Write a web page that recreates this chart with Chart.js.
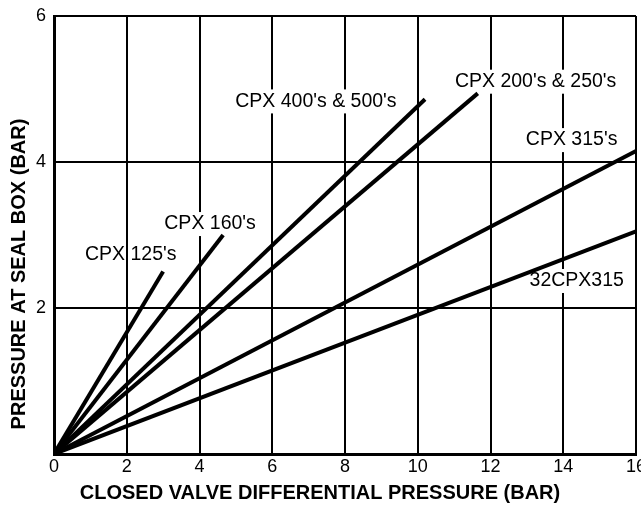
<!DOCTYPE html>
<html>
<head>
<meta charset="utf-8">
<script src="https://cdn.jsdelivr.net/npm/chart.js@4"></script>
<style>
  html, body { margin: 0; padding: 0; background: #fff; }
  #wrap { width: 641px; height: 506px; }
</style>
</head>
<body>
<div id="wrap"><canvas id="chart" width="641" height="506"></canvas></div>
<script>
// Series: straight lines from origin to end point
const seriesNames = ["CPX 125's", "CPX 160's", "CPX 400's & 500's", "CPX 200's & 250's", "CPX 315's", "32CPX315"];
const endX = [3.0, 4.65, 10.2, 11.65, 16, 16];
const endY = [2.5, 3.0, 4.86, 4.94, 4.15, 3.05];

const xTicks = [0, 2, 4, 6, 8, 10, 12, 14, 16];
const yTicks = [2, 4, 6];

const xTitle = 'CLOSED VALVE DIFFERENTIAL PRESSURE (BAR)';
const yTitle = 'PRESSURE AT SEAL BOX (BAR)';

// where each series name sits (data units), and whether it masks the grid
const labelSpots = [
    { x: 2.11, y: 2.73, mask: false },
    { x: 4.29, y: 3.15, mask: true },
    { x: 7.2, y: 4.83, mask: true },
    { x: 13.24, y: 5.10, mask: true },
    { x: 14.23, y: 4.30, mask: true },
    { x: 14.37, y: 2.37, mask: true }
];

const datasets = seriesNames.map((name, i) => ({
    label: name,
    data: [{ x: 0, y: 0 }, { x: endX[i], y: endY[i] }],
    showLine: true,
    borderColor: '#000',
    borderWidth: 4,
    pointRadius: 0,
    fill: false
}));

const FONT = '"Liberation Sans", Arial, sans-serif';

// names on the lines, drawn over the grid but under the lines
const seriesLabels = {
    id: 'seriesLabels',
    beforeDatasetsDraw(chart) {
        const ctx = chart.ctx;
        const xs = chart.scales.x, ys = chart.scales.y;
        ctx.save();
        ctx.font = '19.5px ' + FONT;
        ctx.textAlign = 'center';
        ctx.textBaseline = 'middle';
        seriesNames.forEach((name, i) => {
            const s = labelSpots[i];
            const px = xs.getPixelForValue(s.x);
            const py = ys.getPixelForValue(s.y);
            if (s.mask) {
                const w = ctx.measureText(name).width;
                ctx.fillStyle = '#fff';
                ctx.fillRect(px - w / 2 - 3, py - 12, w + 6, 24);
            }
            ctx.fillStyle = '#000';
            ctx.fillText(name, px, py);
        });
        ctx.restore();
    }
};

// axis titles
const axisTitles = {
    id: 'axisTitles',
    afterDraw(chart) {
        const ctx = chart.ctx;
        ctx.save();
        ctx.font = 'bold 20px ' + FONT;
        ctx.fillStyle = '#000';
        ctx.textAlign = 'center';
        ctx.textBaseline = 'middle';
        ctx.fillText(xTitle, 320, 493);
        ctx.translate(19, 274);
        ctx.rotate(-Math.PI / 2);
        ctx.fillText(yTitle, 0, 0);
        ctx.restore();
    }
};

new Chart(document.getElementById('chart'), {
    type: 'scatter',
    data: { datasets: datasets },
    options: {
        responsive: false,
        animation: false,
        layout: { padding: { top: 16, right: 5, left: 0, bottom: 0 } },
        plugins: {
            legend: { display: false },
            tooltip: { enabled: false }
        },
        scales: {
            x: {
                type: 'linear',
                min: 0,
                max: 16,
                afterBuildTicks(scale) {
                    scale.ticks = xTicks.map(v => ({ value: v }));
                },
                afterFit(scale) {
                    scale.height = 52;
                    scale.paddingLeft = 0;
                    scale.paddingRight = 0;
                },
                ticks: {
                    color: '#000',
                    font: { family: FONT, size: 18 },
                    padding: 2,
                    maxRotation: 0
                },
                grid: { color: '#000', lineWidth: 2, drawTicks: false },
                border: { color: '#000', width: 3 }
            },
            y: {
                type: 'linear',
                min: 0,
                max: 6,
                afterBuildTicks(scale) {
                    scale.ticks = [0].concat(yTicks).map(v => ({ value: v }));
                },
                afterFit(scale) {
                    scale.width = 54;
                    scale.paddingTop = 0;
                    scale.paddingBottom = 0;
                },
                ticks: {
                    color: '#000',
                    font: { family: FONT, size: 18 },
                    padding: 8,
                    callback: v => (v === 0 ? '' : v)
                },
                grid: { color: '#000', lineWidth: 2, drawTicks: false },
                border: { color: '#000', width: 3 }
            }
        }
    },
    plugins: [seriesLabels, axisTitles]
});
</script>
</body>
</html>
